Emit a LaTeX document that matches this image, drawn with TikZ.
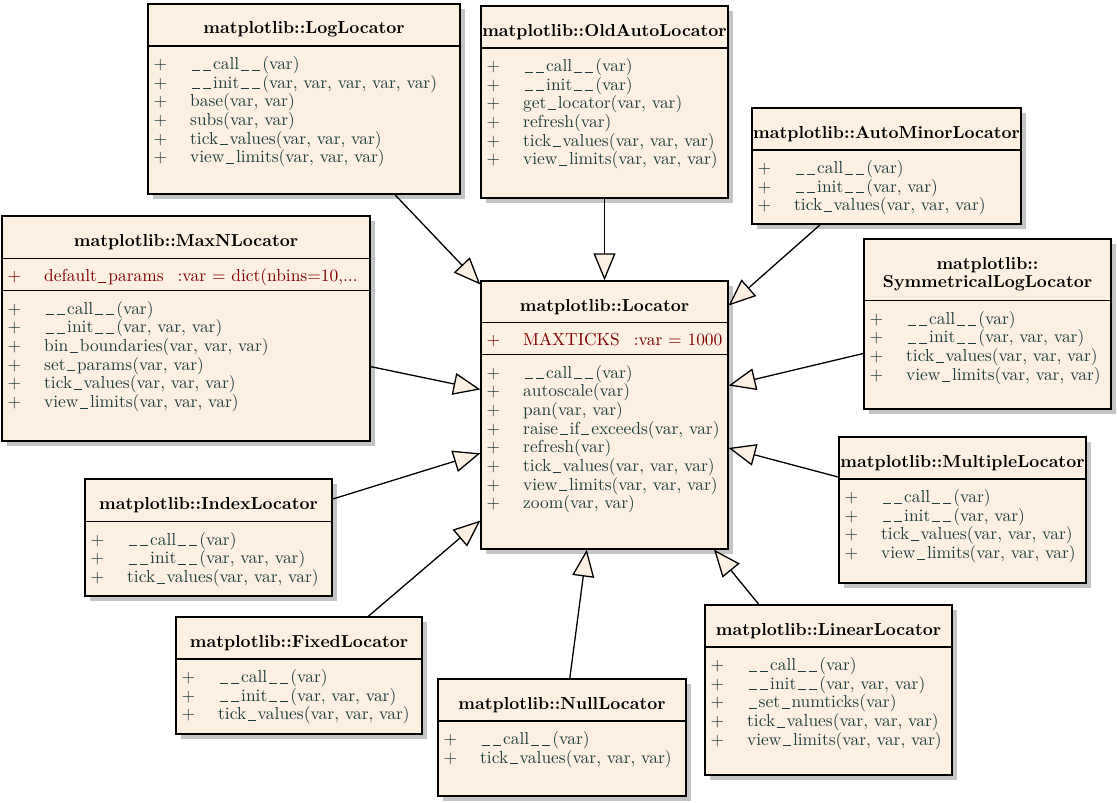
\documentclass[tikz,border=0pt]{standalone}
\usepackage{fontspec}
\setmainfont{lmroman10-regular.otf}[BoldFont=lmroman10-bold.otf]
\usetikzlibrary{arrows.meta,fit,shadows}

\definecolor{boxfill}{HTML}{FBF0E2}
\definecolor{shadowgray}{HTML}{C4C4C4}
\definecolor{methodcol}{HTML}{1F3C3C}
\definecolor{attrcol}{HTML}{800000}

% one compartment of members: a "+" column and a name column
\newcommand{\memberlist}[1]{\begin{tabular}[t]{@{}p{36.5pt}@{}l@{}}#1\end{tabular}}
% spaced underscore as used in the member names
\newcommand{\us}{\kern1.5pt\rule[-1.2pt]{8pt}{0.9pt}\kern2pt}

\begin{document}
\begin{tikzpicture}[x=1pt,y=-1pt,
  classbox/.style={draw=black, line width=1.3pt, fill=boxfill, inner sep=0pt,
    drop shadow={shadow xshift=5pt, shadow yshift=-5pt, fill=shadowgray, opacity=1}},
  divider/.style={line width=1.2pt},
  ctitle/.style={anchor=base, inner sep=0pt,
    font=\fontsize{17.4}{18.67}\selectfont\bfseries},
  cmembers/.style={anchor=base west, inner sep=0pt, text=methodcol,
    font=\fontsize{17.4}{18.67}\selectfont},
  cattr/.style={cmembers, text=attrcol},
  inherit/.style={line width=1.3pt,
    -{Triangle[length=27pt,width=22pt,fill=boxfill]}}]

\useasboundingbox (0,0) rectangle (1117,803);

% ---------- class boxes ----------
\node[classbox, fit={(148,4) (460,194)}] (log) {};
\node[classbox, fit={(481,6) (728,198)}] (oldauto) {};
\node[classbox, fit={(752,108) (1021,224)}] (automin) {};
\node[classbox, fit={(2,216) (370,441)}] (maxn) {};
\node[classbox, fit={(481,281) (728,549)}] (loc) {};
\node[classbox, fit={(864,239) (1111,409)}] (symlog) {};
\node[classbox, fit={(839,437) (1086,583)}] (mult) {};
\node[classbox, fit={(85,479) (332,596)}] (idx) {};
\node[classbox, fit={(176,617) (422,734)}] (fixed) {};
\node[classbox, fit={(438,679) (686,796)}] (null) {};
\node[classbox, fit={(705,605) (952,775)}] (lin) {};

% ---------- compartment dividers ----------
\draw[divider] (148,46) -- (460,46);
\draw[divider] (481,48) -- (728,48);
\draw[divider] (752,150) -- (1021,150);
\draw[divider] (2,258.5) -- (370,258.5);
\draw[divider] (2,290.5) -- (370,290.5);
\draw[divider] (481,322.5) -- (728,322.5);
\draw[divider] (481,354.5) -- (728,354.5);
\draw[divider] (864,300.7) -- (1111,300.7);
\draw[divider] (839,479) -- (1086,479);
\draw[divider] (85,521.5) -- (332,521.5);
\draw[divider] (176,659) -- (422,659);
\draw[divider] (438,721) -- (686,721);
\draw[divider] (705,647) -- (952,647);

% ---------- titles ----------
\node[ctitle] (log-t) at (304,34) {matplotlib::LogLocator};
\node[ctitle] (oldauto-t) at (604.5,36) {matplotlib::OldAutoLocator};
\node[ctitle] (automin-t) at (886.5,138) {matplotlib::AutoMinorLocator};
\node[ctitle] (maxn-t) at (186,246) {matplotlib::MaxNLocator};
\node[ctitle] (loc-t) at (604.5,311) {matplotlib::Locator};
\node[ctitle] (symlog-t1) at (987.5,269) {matplotlib::};
\node[ctitle] (symlog-t2) at (987.5,287.7) {SymmetricalLogLocator};
\node[ctitle] (mult-t) at (962.5,467) {matplotlib::MultipleLocator};
\node[ctitle] (idx-t) at (208.5,509) {matplotlib::IndexLocator};
\node[ctitle] (fixed-t) at (299,647) {matplotlib::FixedLocator};
\node[ctitle] (null-t) at (562,709) {matplotlib::NullLocator};
\node[ctitle] (lin-t) at (828.5,635) {matplotlib::LinearLocator};

% ---------- attributes ----------
\node[cattr] (maxn-a) at (7.5,281.5) {\memberlist{%
  + & default\us params\hspace{14pt}:var = dict(nbins=10,...}};
\node[cattr] (loc-a) at (486.5,345.5) {\memberlist{%
  + & MAXTICKS\hspace{14pt}:var = 1000}};

% ---------- methods ----------
\node[cmembers] (log-m) at (153.5,69.5) {\memberlist{%
  + & \us\us call\us\us(var)\\
  + & \us\us init\us\us(var, var, var, var, var)\\
  + & base(var, var)\\
  + & subs(var, var)\\
  + & tick\us values(var, var, var)\\
  + & view\us limits(var, var, var)}};

\node[cmembers] (oldauto-m) at (486.5,71.5) {\memberlist{%
  + & \us\us call\us\us(var)\\
  + & \us\us init\us\us(var)\\
  + & get\us locator(var, var)\\
  + & refresh(var)\\
  + & tick\us values(var, var, var)\\
  + & view\us limits(var, var, var)}};

\node[cmembers] (automin-m) at (757.5,173.5) {\memberlist{%
  + & \us\us call\us\us(var)\\
  + & \us\us init\us\us(var, var)\\
  + & tick\us values(var, var, var)}};

\node[cmembers] (maxn-m) at (7.5,314) {\memberlist{%
  + & \us\us call\us\us(var)\\
  + & \us\us init\us\us(var, var, var)\\
  + & bin\us boundaries(var, var, var)\\
  + & set\us params(var, var)\\
  + & tick\us values(var, var, var)\\
  + & view\us limits(var, var, var)}};

\node[cmembers] (loc-m) at (486.5,378) {\memberlist{%
  + & \us\us call\us\us(var)\\
  + & autoscale(var)\\
  + & pan(var, var)\\
  + & raise\us if\us exceeds(var, var)\\
  + & refresh(var)\\
  + & tick\us values(var, var, var)\\
  + & view\us limits(var, var, var)\\
  + & zoom(var, var)}};

\node[cmembers] (symlog-m) at (869.5,324.2) {\memberlist{%
  + & \us\us call\us\us(var)\\
  + & \us\us init\us\us(var, var, var)\\
  + & tick\us values(var, var, var)\\
  + & view\us limits(var, var, var)}};

\node[cmembers] (mult-m) at (844.5,502.5) {\memberlist{%
  + & \us\us call\us\us(var)\\
  + & \us\us init\us\us(var, var)\\
  + & tick\us values(var, var, var)\\
  + & view\us limits(var, var, var)}};

\node[cmembers] (idx-m) at (90.5,545) {\memberlist{%
  + & \us\us call\us\us(var)\\
  + & \us\us init\us\us(var, var, var)\\
  + & tick\us values(var, var, var)}};

\node[cmembers] (fixed-m) at (181.5,682.5) {\memberlist{%
  + & \us\us call\us\us(var)\\
  + & \us\us init\us\us(var, var, var)\\
  + & tick\us values(var, var, var)}};

\node[cmembers] (null-m) at (443.5,744.5) {\memberlist{%
  + & \us\us call\us\us(var)\\
  + & tick\us values(var, var, var)}};

\node[cmembers] (lin-m) at (710.5,670.5) {\memberlist{%
  + & \us\us call\us\us(var)\\
  + & \us\us init\us\us(var, var, var)\\
  + & \us set\us numticks(var)\\
  + & tick\us values(var, var, var)\\
  + & view\us limits(var, var, var)}};

% ---------- generalisation edges ----------
\draw[inherit] (log) -- (loc);
\draw[inherit] (oldauto) -- (loc);
\draw[inherit] (automin) -- (loc);
\draw[inherit] (maxn) -- (loc);
\draw[inherit] (symlog) -- (loc);
\draw[inherit] (idx) -- (loc);
\draw[inherit] (mult) -- (loc);
\draw[inherit] (fixed) -- (loc);
\draw[inherit] (null) -- (loc);
\draw[inherit] (lin) -- (loc);

\end{tikzpicture}
\end{document}
